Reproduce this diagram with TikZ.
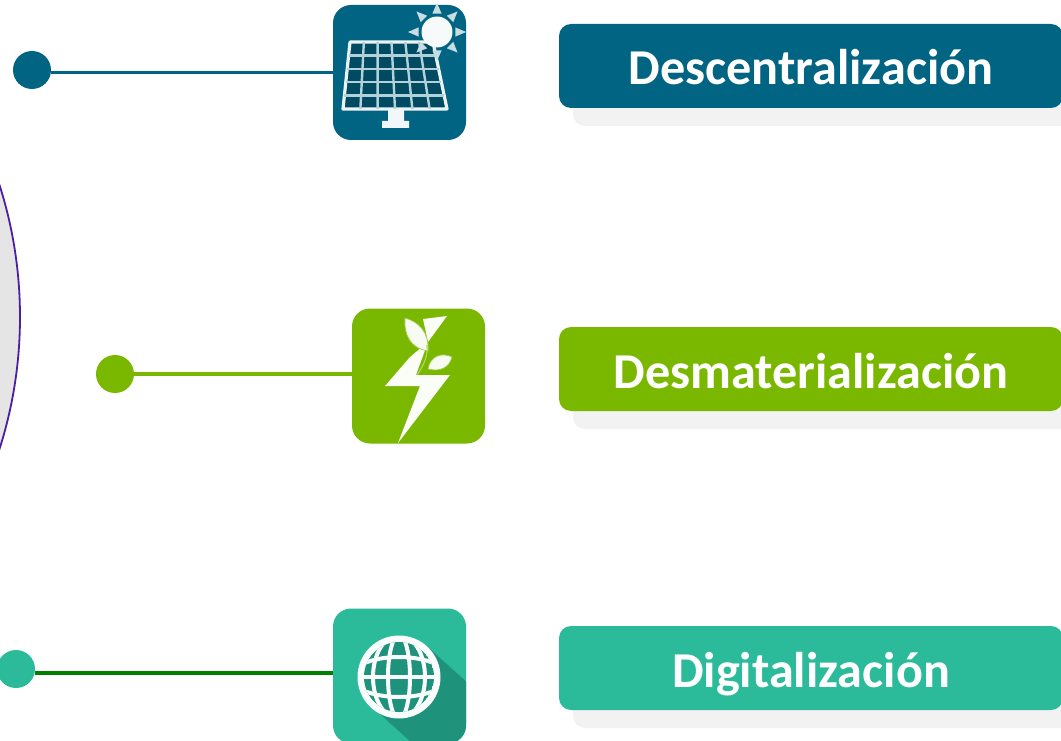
\documentclass[tikz,border=0pt]{standalone}
\usepackage{fontspec}
\setmainfont{Carlito}
\definecolor{cblue}{HTML}{006482}
\definecolor{cgreen}{HTML}{7AB800}
\definecolor{cteal}{HTML}{2BBB9B}
\definecolor{cshadow}{HTML}{F2F2F2}
\definecolor{cdark}{HTML}{1F927C}
\definecolor{cline}{HTML}{007F00}
\definecolor{cring}{HTML}{4A1FA0}
\tikzset{
  iconbox/.style={rounded corners=18pt,minimum width=133pt,minimum height=135pt,inner sep=0pt,fill=#1},
  labelbox/.style={rounded corners=12pt,minimum width=504pt,minimum height=84pt,inner sep=0pt,fill=#1,text=white,text height=40pt,text depth=2pt,font=\fontsize{50.2}{50.2}\selectfont\bfseries},
  shadowbox/.style={rounded corners=12pt,minimum width=504pt,minimum height=84pt,inner sep=0pt,fill=cshadow},
  dot/.style={circle,minimum size=38pt,inner sep=0pt,fill=#1},
  link/.style={line width=3.5pt,draw=#1},
}
\begin{document}
\begin{tikzpicture}[x=1pt,y=-1pt]
\useasboundingbox (0,0) rectangle (1061,741);
\clip (0,0) rectangle (1061,741);
\fill[white] (0,0) rectangle (1061,741);
% big circle
\draw[fill=black!10,draw=cring,line width=1.8pt] (-412.5,317) circle (432.5pt);
% shadows
\node[shadowbox] (s1) at (825,84) {};
\node[shadowbox] (s2) at (825,387) {};
\node[shadowbox] (s3) at (825,686) {};
% labels
\node[labelbox=cblue] (l1) at (811,66) {Descentralización};
\node[labelbox=cgreen] (l2) at (811,369) {Desmaterialización};
\node[labelbox=cteal] (l3) at (811,668) {Digitalización};
% icon boxes
\node[iconbox=cblue] (i1) at (399.5,72.5) {};
\node[iconbox=cgreen] (i2) at (418.5,376) {};
\node[iconbox=cteal] (i3) at (399.5,676) {};
% dots
\node[dot=cblue] (d1) at (32,70) {};
\node[dot=cgreen] (d2) at (115,374) {};
\node[dot=cteal] (d3) at (16,669) {};
% connectors
\draw[link=cblue] (d1.east |- 0,72.5) -- (i1.west |- 0,72.5);
\draw[link=cgreen] (d2.east |- 0,374) -- (i2.west |- 0,374);
\draw[link=cline] (d3.east |- 0,673) -- (i3.west |- 0,673);
% solar panel
\draw[white!92!cblue,line width=3.2pt,fill=cblue!75!black,line join=round] (350,42) -- (433,42) -- (447,109) -- (343,109) -- cycle;
\foreach \t in {0.167,0.333,0.5,0.667,0.833}{
  \draw[white!70!cblue,line width=2.4pt] ({350+83*\t},42) -- ({343+104*\t},109);}
\foreach \t in {0.2,0.4,0.6,0.8}{
  \draw[white!70!cblue,line width=2.4pt] ({350-7*\t},{42+67*\t}) -- ({433+14*\t},{42+67*\t});}
\fill[white!95!cblue] (388,110) -- (404,110) -- (404,121) -- (409,121) -- (409,128) -- (382,128) -- (382,121) -- (388,121) -- cycle;
% sun
\fill[white!97!cblue] (437,32) circle (15.5pt);
\foreach \a in {0,45,...,315}{
  \fill[white!78!cblue] ([shift={(\a+14:19pt)}]437,32) -- ([shift={(\a:29pt)}]437,32) -- ([shift={(\a-14:19pt)}]437,32) -- cycle;}
% bolt
\fill[white!97!cgreen] (447,316) -- (423,319) -- (428,342) -- (410,357) -- (385,386) -- (420,386) -- (398,443) -- (450,375) -- (416,375) -- (428,342) -- cycle;
\fill[white!95!cgreen,draw=cgreen!70!white,line width=0.7pt] (405,318) .. controls (419,322) and (429,332) .. (428,351) .. controls (410,348) and (404,335) .. (405,318) -- cycle;
\fill[white!95!cgreen,draw=cgreen!70!white,line width=0.7pt] (452,357) .. controls (442,352) and (430,356) .. (428,369) .. controls (440,372) and (449,368) .. (452,357) -- cycle;
\draw[cgreen!60!white,line width=1.2pt] (427,345) .. controls (428,356) and (424,365) .. (417,375);
% globe
\begin{scope}
  \clip[rounded corners=18pt] (333,608.5) rectangle (466,743.5);
  \fill[cdark] (371,706) -- (429,648) -- (480,694) -- (480,770) -- (442,770) -- cycle;
\end{scope}
\fill[white!97!cteal] (399,677) circle (41.5pt);
\begin{scope}
  \clip (399,677) circle (35pt);
  \fill[cdark] (399,677) circle (35pt);
  \draw[white!97!cteal,line width=4pt] (350,677) -- (448,677);
  \draw[white!97!cteal,line width=4pt] (358,666) .. controls (380,654) and (418,654) .. (440,666);
  \draw[white!97!cteal,line width=4pt] (358,688) .. controls (380,700) and (418,700) .. (440,688);
  \draw[white!97!cteal,line width=4pt] (399,677) ellipse (11pt and 42pt);
  \draw[white!97!cteal,line width=4pt] (399,677) ellipse (26pt and 42pt);
\end{scope}
\end{tikzpicture}
\end{document}
